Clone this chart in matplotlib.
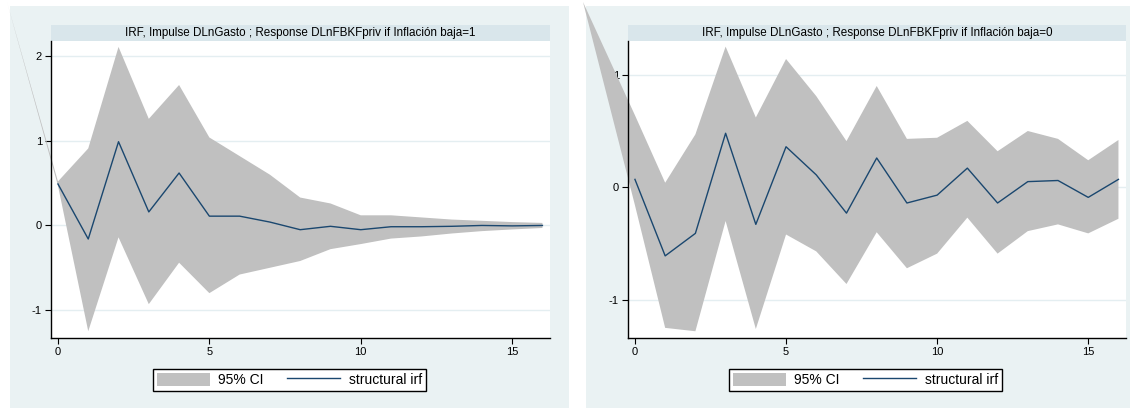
import numpy as np
import matplotlib
matplotlib.use("Agg")
import matplotlib.pyplot as plt
from matplotlib.patches import Polygon, Patch
from matplotlib.lines import Line2D
from matplotlib.transforms import IdentityTransform

plt.rcParams['font.family'] = ['Liberation Sans', 'DejaVu Sans']

# ---------------- data ----------------
steps = list(range(17))

titles = [
    "IRF, Impulse DLnGasto ; Response DLnFBKFpriv if Inflación baja=1",
    "IRF, Impulse DLnGasto ; Response DLnFBKFpriv if Inflación baja=0",
]

irf_baja1 = [0.49, -0.16, 0.99, 0.16, 0.62, 0.11, 0.11, 0.04, -0.05, -0.01,
             -0.05, -0.015, -0.015, -0.01, 0.0, -0.005, 0.0]
upper_baja1 = [0.52, 0.91, 2.11, 1.26, 1.66, 1.04, 0.82, 0.60, 0.33, 0.26,
               0.12, 0.12, 0.095, 0.07, 0.055, 0.04, 0.03]
lower_baja1 = [0.47, -1.25, -0.14, -0.93, -0.44, -0.80, -0.58, -0.50, -0.42, -0.28,
               -0.22, -0.155, -0.13, -0.095, -0.067, -0.047, -0.03]

irf_baja0 = [0.07, -0.61, -0.41, 0.48, -0.33, 0.36, 0.11, -0.23, 0.26, -0.14,
             -0.07, 0.17, -0.14, 0.05, 0.06, -0.09, 0.07]
upper_baja0 = [0.64, 0.04, 0.47, 1.25, 0.62, 1.14, 0.81, 0.41, 0.90, 0.43,
               0.44, 0.59, 0.32, 0.50, 0.43, 0.24, 0.42]
lower_baja0 = [-0.16, -1.25, -1.28, -0.30, -1.26, -0.42, -0.57, -0.86, -0.40, -0.72,
               -0.59, -0.27, -0.59, -0.39, -0.33, -0.41, -0.28]

xticks = [0, 5, 10, 15]
yticks_left = [-1, 0, 1, 2]
yticks_right = [-1, 0, 1]

# ---------------- style ----------------
W, H = 1136, 409
BG = "#EAF2F3"
STRIP = "#D9E6EB"
BAND = "#C0C0C0"
NAVY = "#1A476F"
GRID = "#E4EEF1"

fig = plt.figure(figsize=(W / 100, H / 100), dpi=100)
fig.patch.set_facecolor("white")


def rect(l, t, r, b):
    """pixel box (left, top, right, bottom) -> figure fraction"""
    return [l / W, 1 - b / H, (r - l) / W, (b - t) / H]


panels = [
    dict(outer=(10, 6, 569, 408), plot=(51, 41, 550, 338), ylim=(-1.33, 2.18),
         yticks=yticks_left, irf=irf_baja1, up=upper_baja1, lo=lower_baja1,
         title=titles[0], legend=(151, 367, 428, 393)),
    dict(outer=(586, 6, 1130, 408), plot=(628, 41, 1126, 338), ylim=(-1.34, 1.30),
         yticks=yticks_right, irf=irf_baja0, up=upper_baja0, lo=lower_baja0,
         title=titles[1], legend=(727, 367, 1004, 393)),
]

for p in panels:
    ol, ot, orr, ob = p["outer"]
    bg = fig.add_axes(rect(*p["outer"]), zorder=-3)
    bg.set_facecolor(BG)
    bg.set_xticks([]); bg.set_yticks([])
    for s in bg.spines.values():
        s.set_visible(False)

    pl, pt, pr, pb = p["plot"]
    strip = fig.add_axes(rect(pl, 25, pr, 41), zorder=-2)
    strip.set_facecolor(STRIP)
    strip.set_xticks([]); strip.set_yticks([])
    for s in strip.spines.values():
        s.set_visible(False)
    strip.text(0.5, 0.5, p["title"], ha="center", va="center", fontsize=8.4,
               color="black", transform=strip.transAxes)

    ax = fig.add_axes(rect(*p["plot"]), zorder=0)
    ax.set_facecolor("white")
    ax.set_xlim(-0.23, 16.25)
    ax.set_ylim(*p["ylim"])
    ax.set_autoscale_on(False)

    # CI band (with the stray first vertex produced by the original renderer)
    up = np.asarray(p["up"], float)
    lo = np.asarray(p["lo"], float)
    xs = np.asarray(steps, float)
    pts = np.vstack([np.column_stack([xs, up]), np.column_stack([xs[::-1], lo[::-1]])])
    disp = ax.transData.transform(pts)
    stray = np.array([[ol - 3, H - 2]], float)
    disp = np.vstack([stray, disp])
    poly = Polygon(disp, closed=True, facecolor=BAND, edgecolor="none",
                   transform=IdentityTransform(), clip_on=False, zorder=1)
    ax.add_artist(poly)

    ax.plot(steps, p["irf"], color=NAVY, lw=1.0, zorder=3)

    ax.set_xticks(xticks)
    ax.set_yticks(p["yticks"])
    ax.set_yticklabels([str(v) for v in p["yticks"]])
    ax.grid(axis="y", color=GRID, lw=1.0, zorder=0)
    ax.set_axisbelow(True)
    for s in ("top", "right"):
        ax.spines[s].set_visible(False)
    for s in ("left", "bottom"):
        ax.spines[s].set_color("black")
        ax.spines[s].set_linewidth(1.0)
    ax.tick_params(axis="both", direction="out", length=4, width=0.8,
                   labelsize=8, pad=2.5, colors="black")

    ll, lt, lr, lb = p["legend"]
    handles = [Patch(facecolor=BAND, edgecolor="none"),
               Line2D([0], [0], color=NAVY, lw=1.0)]
    leg = ax.legend(handles, ["95% CI", "structural irf"], ncol=2,
                    loc="center",
                    bbox_to_anchor=((ll + lr) / 2 / W, 1 - (lt + lb) / 2 / H),
                    bbox_transform=fig.transFigure, fontsize=10,
                    frameon=True, fancybox=False, framealpha=1,
                    edgecolor="black", facecolor="white",
                    handlelength=3.8, handleheight=1.1, handletextpad=0.6,
                    columnspacing=1.7, borderpad=0.3, borderaxespad=0)
    leg.get_frame().set_linewidth(1.0)

fig.savefig("out.png", dpi=100)
